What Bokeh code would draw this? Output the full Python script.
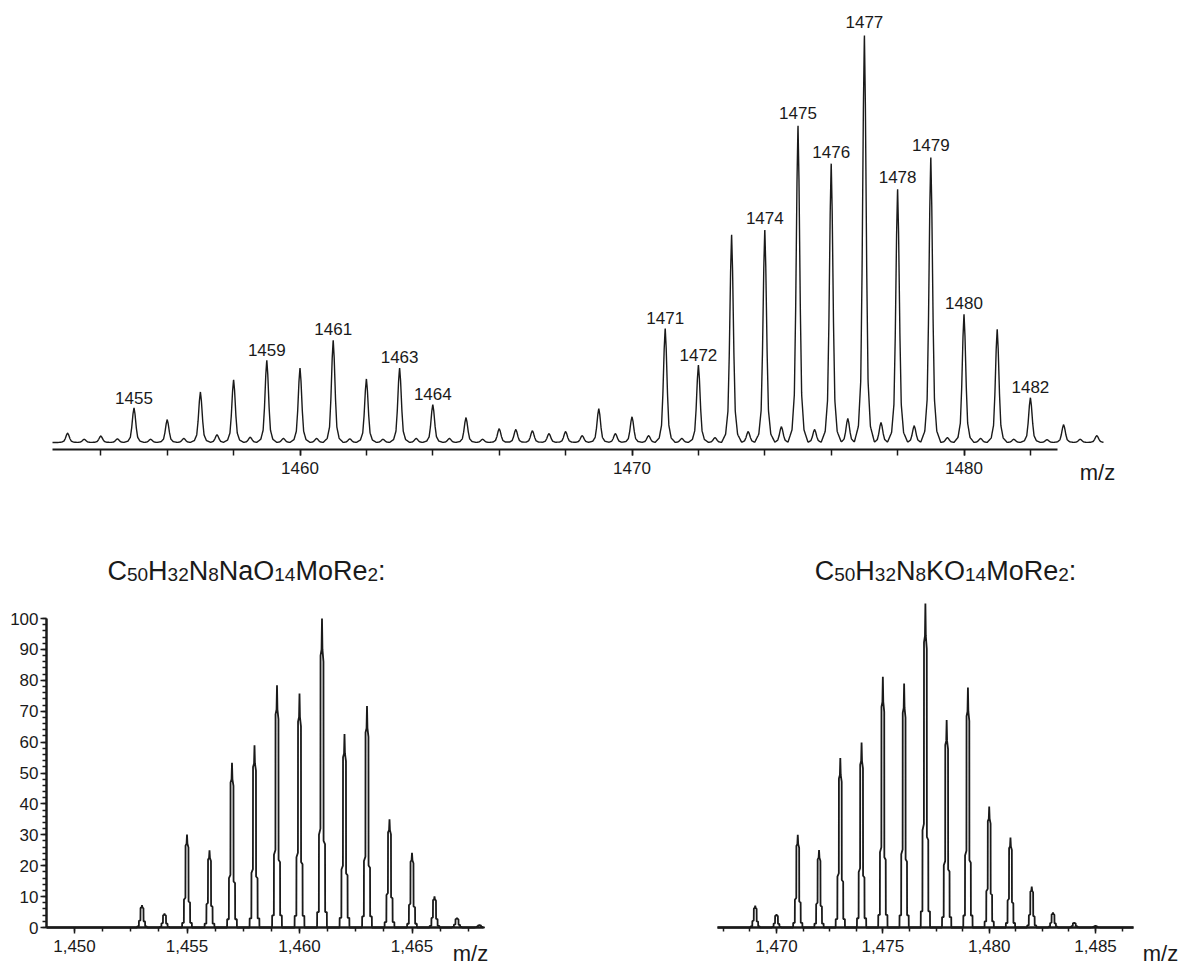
import numpy as np
from bokeh.plotting import figure
from bokeh.models import Label, SingleIntervalTicker, Range1d, ColumnDataSource, NumeralTickFormatter
from bokeh.layouts import column, row
from bokeh.embed import file_html
from bokeh.resources import INLINE
from bokeh.core.properties import value

FONT = "Liberation Sans"
INK = "#1a1a1a"

# ---------------- data ----------------
# observed spectrum (top): peak positions (m/z) and relative intensities (%)
obs_mz = [1453.0, 1453.5, 1454.0, 1454.5, 1455.0, 1455.5, 1456.0, 1456.5, 1457.0, 1457.5,
          1458.0, 1458.5, 1459.0, 1459.5, 1460.0, 1460.5, 1461.0, 1461.5, 1462.0, 1462.5,
          1463.0, 1463.5, 1464.0, 1464.5, 1465.0, 1465.5, 1466.0, 1466.5, 1467.0, 1467.5,
          1468.0, 1468.5, 1469.0, 1469.5, 1470.0, 1470.5, 1471.0, 1471.5, 1472.0, 1472.5,
          1473.0, 1473.5, 1474.0, 1474.5, 1475.0, 1475.5, 1476.0, 1476.5, 1477.0, 1477.5,
          1478.0, 1478.5, 1479.0, 1479.5, 1480.0, 1480.5, 1481.0, 1481.5, 1482.0, 1482.5,
          1483.0, 1483.5, 1484.0]
obs_int = [2.3, 0.8, 1.6, 0.9, 8.5, 0.8, 5.6, 1.0, 12.4, 1.9,
           15.4, 1.3, 20.2, 1.0, 18.3, 1.0, 25.1, 0.9, 15.6, 0.8,
           18.3, 1.0, 9.3, 1.0, 6.1, 0.8, 3.4, 3.2, 2.9, 2.2,
           2.7, 1.7, 8.3, 2.2, 6.3, 1.7, 28.0, 1.0, 19.0, 1.2,
           51.0, 2.7, 52.2, 3.9, 77.8, 3.2, 68.5, 5.9, 100.0, 4.9,
           62.2, 4.1, 70.0, 1.2, 31.5, 1.0, 27.8, 0.8, 11.0, 0.7,
           4.4, 0.8, 1.7]
label_mz = [1455, 1459, 1461, 1463, 1464, 1471, 1472, 1474, 1475, 1476, 1477, 1478, 1479, 1480, 1482]

# simulated isotope pattern, Na adduct (bottom left)
na_mz = [1453, 1454, 1455, 1456, 1457, 1458, 1459, 1460, 1461, 1462, 1463, 1464, 1465, 1466, 1467, 1468]
na_int = [7.2, 4.5, 30.1, 25.0, 53.3, 59.0, 78.4, 75.7, 100.0, 62.6, 71.7, 35.0, 24.2, 10.1, 3.1, 0.8]

# simulated isotope pattern, K adduct (bottom right)
k_mz = [1469, 1470, 1471, 1472, 1473, 1474, 1475, 1476, 1477, 1478, 1479, 1480, 1481, 1482, 1483, 1484, 1485]
k_int = [6.7, 4.1, 28.6, 23.9, 52.3, 57.1, 77.4, 75.3, 100.0, 64.0, 74.1, 37.3, 27.8, 12.6, 4.6, 1.5, 0.5]

na_title = [("C", 0), ("50", 1), ("H", 0), ("32", 1), ("N", 0), ("8", 1), ("NaO", 0), ("14", 1),
            ("MoRe", 0), ("2", 1), (":", 0)]
k_title = [("C", 0), ("50", 1), ("H", 0), ("32", 1), ("N", 0), ("8", 1), ("KO", 0), ("14", 1),
           ("MoRe", 0), ("2", 1), (":", 0)]

# ---------------- peak shapes (style) ----------------
OBS_DX = [-0.30, -0.18, -0.11, -0.07, -0.03, 0.0, 0.03, 0.07, 0.11, 0.18, 0.30]
OBS_F = [0.0, 0.04, 0.15, 0.42, 0.82, 1.0, 0.82, 0.42, 0.15, 0.04, 0.0]

SIM_DX = [-0.22, -0.215, -0.14, -0.135, -0.07, -0.065, -0.02, 0.0, 0.02, 0.065, 0.07, 0.135, 0.14, 0.215, 0.22]
SIM_F = [0.0, 0.05, 0.05, 0.30, 0.32, 0.88, 0.90, 1.0, 0.90, 0.86, 0.28, 0.27, 0.05, 0.05, 0.0]


def observed_profile(x0, x1, mz, inten):
    xs = np.arange(x0, x1, 0.004)
    ys = np.zeros_like(xs)
    for c, h in zip(mz, inten):
        ys += h * np.interp(xs - c, OBS_DX, OBS_F, left=0.0, right=0.0)
    return xs, ys


def stick_profile(x0, x1, mz, inten):
    xs, ys = [x0], [0.0]
    for c, h in zip(mz, inten):
        for dx, f in zip(SIM_DX, SIM_F):
            xs.append(c + dx)
            ys.append(h * f)
    xs.append(x1)
    ys.append(0.0)
    return xs, ys


AW = {"C": 722, "H": 722, "N": 722, "K": 667, "a": 556, "O": 778, "M": 833, "o": 556,
      "R": 722, "e": 556, ":": 278}


def text_w(s, size):
    return sum(AW.get(ch, 556) for ch in s) * size / 1000.0


def add_formula(p, parts, center_px, base_px, to_x, to_y, main=27, sub=19):
    total = sum(text_w(t, sub if s else main) for t, s in parts)
    x = center_px - total / 2.0
    for t, s in parts:
        size = sub if s else main
        yb = base_px + (4 if s else 0)
        p.add_layout(Label(x=to_x(x), y=to_y(yb), text=t, text_font=FONT,
                           text_font_size=f"{size}px", text_color=INK,
                           text_align="left", text_baseline="alphabetic"))
        x += text_w(t, size)


def style_axis(ax, label_px=17):
    ax.axis_line_color = INK
    ax.major_tick_line_color = INK
    ax.minor_tick_line_color = INK
    ax.major_tick_in = 0
    ax.minor_tick_in = 0
    ax.major_tick_line_width = 1.5
    ax.minor_tick_line_width = 1.5
    ax.major_label_text_font = FONT
    ax.major_label_text_font_size = f"{label_px}px"
    ax.major_label_text_color = INK


def bare(p):
    p.outline_line_color = None
    p.grid.visible = False
    p.min_border = 0
    p.min_border_left = 0
    p.min_border_right = 0
    p.min_border_top = 0
    p.min_border_bottom = 0


# ---------------- top: observed spectrum (page box x 0..1180, y 0..490) ----------------
def t_x(px):
    return 1460 + (px - 299.5) / 33.2


def t_y(py):
    return (442 - py) / 4.1


top = figure(width=1180, height=490, x_range=Range1d(t_x(0), t_x(1180)),
             y_range=Range1d(t_y(490), t_y(0)), title=None,
             output_backend="svg", toolbar_location=None, y_axis_location=None)
bare(top)

xs, ys = observed_profile(t_x(52), t_x(1103), obs_mz, obs_int)
top.line(xs, ys, line_color=INK, line_width=1.4)

lab_y = [obs_int[obs_mz.index(float(m))] + 1.0 for m in label_mz]
src = ColumnDataSource(dict(x=label_mz, y=lab_y, t=[str(m) for m in label_mz]))
top.text(x="x", y="y", text="t", source=src, text_font=value(FONT), text_font_size=value("17px"),
         text_color=INK, text_align="center", text_baseline="bottom")

ax = top.xaxis[0]
ax.fixed_location = t_y(449)
ax.ticker = SingleIntervalTicker(interval=10, num_minor_ticks=5)
ax.bounds = (t_x(52), t_x(1057))
style_axis(ax)
ax.axis_line_width = 2
ax.major_tick_out = 6
ax.minor_tick_out = 6
ax.major_label_standoff = 6

top.add_layout(Label(x=t_x(1097), y=t_y(472), text="m/z", text_font=FONT, text_font_size="22px",
                     text_color=INK, text_align="center", text_baseline="middle"))


# ---------------- bottom left: Na simulation (page box x 0..700, y 490..965) ----------------
def bl_x(px):
    return 1450 + (px - 74) / 22.5


def bl_y(py):
    return (927 - py) / 3.09


bl = figure(width=700, height=475, x_range=Range1d(bl_x(0), bl_x(700)),
            y_range=Range1d(bl_y(965), bl_y(490)), title=None,
            output_backend="svg", toolbar_location=None)
bare(bl)
xs, ys = stick_profile(bl_x(46), bl_x(483), na_mz, na_int)
bl.line(xs, ys, line_color=INK, line_width=1.8)

for a in (bl.xaxis[0], bl.yaxis[0]):
    style_axis(a)
    a.axis_line_width = 2.5
    a.major_tick_out = 6
    a.minor_tick_out = 4
bl.xaxis[0].fixed_location = 0
bl.xaxis[0].bounds = (bl_x(46), bl_x(483))
bl.xaxis[0].ticker = SingleIntervalTicker(interval=5, num_minor_ticks=4)
bl.xaxis[0].formatter = NumeralTickFormatter(format="0,0")
bl.xaxis[0].major_label_standoff = 6
bl.yaxis[0].fixed_location = bl_x(46)
bl.yaxis[0].bounds = (0, 100)
bl.yaxis[0].ticker = SingleIntervalTicker(interval=10, num_minor_ticks=5)
bl.yaxis[0].major_label_standoff = 2

add_formula(bl, na_title, 246, 570, bl_x, bl_y)
bl.add_layout(Label(x=bl_x(470), y=bl_y(953), text="m/z", text_font=FONT, text_font_size="22px",
                    text_color=INK, text_align="center", text_baseline="middle"))


# ---------------- bottom right: K simulation (page box x 700..1180, y 490..965) ----------------
def br_x(px):
    return 1470 + (px - 776) / 21.27


def br_y(py):
    return (927 - py) / 3.24


br = figure(width=480, height=475, x_range=Range1d(br_x(700), br_x(1180)),
            y_range=Range1d(br_y(965), br_y(490)), title=None,
            output_backend="svg", toolbar_location=None, y_axis_location=None)
bare(br)
xs, ys = stick_profile(br_x(717), br_x(1133), k_mz, k_int)
br.line(xs, ys, line_color=INK, line_width=1.8)
a = br.xaxis[0]
style_axis(a)
a.fixed_location = 0
a.bounds = (br_x(717), br_x(1133))
a.axis_line_width = 2.5
a.major_tick_out = 6
a.minor_tick_out = 4
a.ticker = SingleIntervalTicker(interval=5, num_minor_ticks=4)
a.formatter = NumeralTickFormatter(format="0,0")
a.major_label_standoff = 6

add_formula(br, k_title, 945, 570, br_x, br_y)
br.add_layout(Label(x=br_x(1160), y=br_y(953), text="m/z", text_font=FONT, text_font_size="22px",
                    text_color=INK, text_align="center", text_baseline="middle"))

layout = column(top, row(bl, br, spacing=0), spacing=0)
open("out.html", "w").write(file_html(layout, INLINE))
